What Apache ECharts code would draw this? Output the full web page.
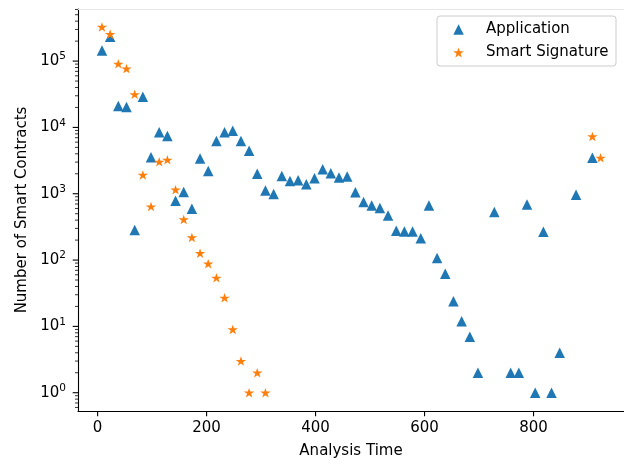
<!DOCTYPE html>
<html><head><meta charset="utf-8">
<script src="https://cdn.jsdelivr.net/npm/echarts@6/dist/echarts.min.js"></script>
<style>html,body{margin:0;padding:0;background:#fff}#c{width:624px;height:464px}</style>
</head><body><div id="c"></div>
<script>
// ---- data ----
const appTimes = [8, 23, 38, 53, 68, 83, 98, 113, 128, 143, 158, 173, 188, 203, 218, 233, 248, 263, 278, 293,
  308, 323, 338, 353, 368, 383, 398, 413, 428, 443, 458, 473, 488, 503, 518, 533, 548, 563, 578, 593,
  608, 623, 638, 653, 668, 683, 698, 728, 758, 773, 788, 803, 818, 833, 848, 878, 908];
const appCounts = [144000, 232000, 21100, 20400, 285, 29100, 3550, 8490, 7400, 787, 1060, 592, 3400, 2200, 6230, 8490, 8870, 6230, 4430, 2010,
  1120, 991, 1850, 1560, 1600, 1390, 1710, 2350, 2030, 1750, 1820, 1050, 752, 662, 612, 471, 276, 269, 269, 214,
  662, 107, 62, 24, 12, 7, 2, 529, 2, 2, 686, 1, 267, 1, 4, 966, 3480];
const sigTimes = [8, 23, 38, 53, 68, 83, 98, 113, 128, 143, 158, 173, 188, 203, 218, 233, 248, 263, 278, 293, 308, 908, 923];
const sigCounts = [327000, 255000, 91000, 77000, 31500, 1920, 641, 3030, 3250, 1150, 410, 219, 127, 88, 54, 27, 9, 3, 1, 2, 1, 7300, 3480];
const xTickValues = [0, 200, 400, 600, 800];
const yTickPowers = [0, 1, 2, 3, 4, 5];

// ---- axis extents ----
const X_MIN = -36, X_MAX = 966, Y_MIN = 0.53, Y_MAX = 6.1e5;
const yMajor = yTickPowers.map(p => Math.pow(10, p));
const yMinor = [];
for (let p = -1; p <= 5; p++) {
  for (let m = 2; m <= 9; m++) {
    const v = m * Math.pow(10, p);
    if (v > Y_MIN && v < Y_MAX) yMinor.push(v);
  }
}

const FONT = 'DejaVu Sans';
const STAR = 'path://M100,0L122.45,69.1L195.11,69.1L136.33,111.8L158.78,180.9L100,138.2L41.22,180.9L63.67,111.8L4.89,69.1L77.55,69.1Z';

function tickSeries(data, dir, len, width) {
  return {
    type: 'custom', silent: true, clip: false, z: 5, data: data,
    renderItem: function (params, api) {
      const p = api.coord([api.value(0), api.value(1)]);
      const shape = dir === 'y'
        ? { x1: p[0] - len, y1: p[1], x2: p[0], y2: p[1] }
        : { x1: p[0], y1: p[1], x2: p[0], y2: p[1] + len };
      return { type: 'line', shape: shape, style: { stroke: '#000', lineWidth: width } };
    }
  };
}

const chart = echarts.init(document.getElementById('c'), null, { renderer: 'canvas' });
chart.setOption({
  animation: false,
  backgroundColor: '#fff',
  grid: { left: 78, right: 0, top: 9, bottom: 48, containLabel: false },
  legend: {
    orient: 'vertical', left: 437, top: 16,
    data: [
      { name: 'Application', icon: 'triangle' },
      { name: 'Smart Signature', icon: STAR }
    ],
    symbolKeepAspect: true,
    padding: [6, 7.5, 6, 16.3],
    itemWidth: 10.5, itemHeight: 10.5, itemGap: 8,
    borderColor: '#cccccc', borderWidth: 1, borderRadius: 3,
    backgroundColor: 'rgba(255,255,255,0.8)',
    textStyle: { fontFamily: FONT, fontSize: 15, color: '#000', lineHeight: 15, padding: [0, 0, 0, 17.2] }
  },
  xAxis: [{
    type: 'value', min: X_MIN, max: X_MAX, position: 'bottom',
    name: 'Analysis Time', nameLocation: 'middle', nameGap: 33,
    nameTextStyle: { fontFamily: FONT, fontSize: 15, color: '#000', lineHeight: 15 },
    splitLine: { show: false }, axisTick: { show: false },
    axisLine: { show: true, onZero: false, lineStyle: { color: '#000', width: 1.1 } },
    axisLabel: {
      fontFamily: FONT, fontSize: 15, color: '#000', margin: 10, lineHeight: 15,
      showMinLabel: false, showMaxLabel: false,
      formatter: function (v) { return xTickValues.indexOf(v) >= 0 ? String(v) : ''; }
    }
  }, {
    type: 'value', min: X_MIN, max: X_MAX, position: 'top',
    splitLine: { show: false }, axisTick: { show: false }, axisLabel: { show: false },
    axisLine: { show: true, onZero: false, lineStyle: { color: '#e6e6e6', width: 1 } }
  }],
  yAxis: {
    type: 'log', logBase: 10, min: Y_MIN, max: Y_MAX, position: 'left',
    name: 'Number of Smart Contracts', nameLocation: 'middle', nameGap: 48,
    nameTextStyle: { fontFamily: FONT, fontSize: 15, color: '#000', lineHeight: 15 },
    splitLine: { show: false }, axisTick: { show: false }, minorTick: { show: false },
    axisLine: { show: true, onZero: false, lineStyle: { color: '#000', width: 1.1 } },
    axisLabel: {
      margin: 12, color: '#000', fontFamily: FONT,
      formatter: function (v) {
        const l = Math.log10(v);
        const e = Math.round(l);
        if (Math.abs(l - e) > 1e-6) return '';
        return '{b|10}{s|' + e + '}';
      },
      rich: {
        b: { fontFamily: FONT, fontSize: 15, lineHeight: 20, color: '#000' },
        s: { fontFamily: FONT, fontSize: 10.5, lineHeight: 10, verticalAlign: 'top', color: '#000' }
      }
    }
  },
  series: [
    {
      name: 'Application', type: 'scatter', z: 2,
      data: appTimes.map((t, i) => [t, appCounts[i]]),
      symbol: 'triangle', symbolSize: 10.5, symbolKeepAspect: true,
      itemStyle: { color: '#1f77b4', opacity: 1 }
    },
    {
      name: 'Smart Signature', type: 'scatter', z: 3,
      data: sigTimes.map((t, i) => [t, sigCounts[i]]),
      symbol: STAR, symbolSize: [10.5, 10], symbolKeepAspect: true,
      itemStyle: { color: '#ff7f0e', opacity: 1 }
    },
    tickSeries(yMajor.map(v => [X_MIN, v]), 'y', 5.3, 1.1),
    tickSeries(yMinor.map(v => [X_MIN, v]), 'y', 3, 0.8),
    tickSeries(xTickValues.map(v => [v, Y_MIN]), 'x', 5.3, 1.1)
  ]
});
</script>
</body></html>
